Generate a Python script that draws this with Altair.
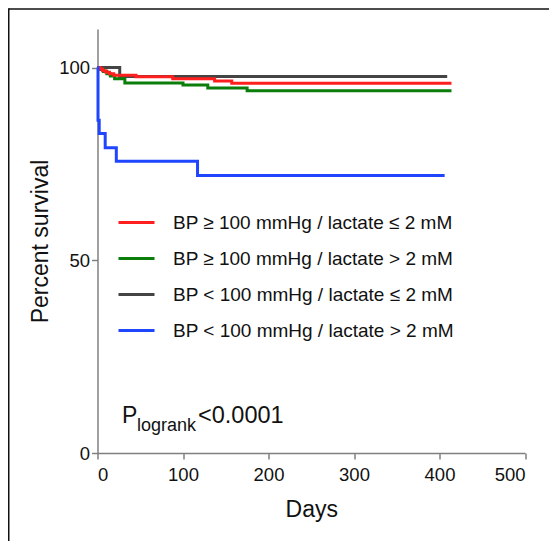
import altair as alt
import pandas as pd

labels = [
    "BP ≥ 100 mmHg / lactate ≤ 2 mM",
    "BP ≥ 100 mmHg / lactate > 2 mM",
    "BP < 100 mmHg / lactate ≤ 2 mM",
    "BP < 100 mmHg / lactate > 2 mM",
]
colors = ["#ff1f1f", "#0b7d0b", "#444444", "#1f45ff"]

red_days = [0, 3, 6, 10, 14, 19, 45, 88, 137, 157, 414]
red_surv = [100, 99.6, 99.2, 98.8, 98.4, 98.0, 97.6, 97.1, 96.5, 95.9, 95.9]
green_days = [0, 3, 7, 11, 15, 20, 32, 100, 129, 175, 414]
green_surv = [100, 99.5, 99.0, 98.4, 97.8, 97.1, 96.0, 95.5, 94.7, 94.0, 94.0]
black_days = [0, 26, 409]
black_surv = [100, 97.7, 97.7]
blue_days = [0, 0.6, 2, 9, 22, 117, 406]
blue_surv = [100, 86.3, 82.9, 79.2, 75.7, 72.0, 72.0]

x_ticks = [0, 100, 200, 300, 400, 500]
y_ticks = [0, 50, 100]

ann_day = [28.7]
ann_pct = [7.8]

rows = []
for lab, days, surv in [
    (labels[2], black_days, black_surv),
    (labels[1], green_days, green_surv),
    (labels[0], red_days, red_surv),
    (labels[3], blue_days, blue_surv),
]:
    for d, s in zip(days, surv):
        rows.append({"group": lab, "day": d, "surv": s})
df = pd.DataFrame(rows)
ann = pd.DataFrame({"day": ann_day, "pct": ann_pct})

W, H = 427.5, 424
FONT = "Liberation Sans"

x_enc = alt.X(
    "day:Q",
    scale=alt.Scale(domain=[0, 500], nice=False),
    axis=alt.Axis(values=x_ticks, title="Days", format="d"),
)
y_enc = alt.Y(
    "surv:Q",
    scale=alt.Scale(domain=[0, 110], nice=False),
    axis=alt.Axis(values=y_ticks, title="Percent survival", format="d"),
)

lines = alt.Chart(df).mark_line(interpolate="step-after", strokeWidth=3).encode(
    x=x_enc,
    y=y_enc,
    color=alt.Color(
        "group:N",
        scale=alt.Scale(domain=labels, range=colors),
        legend=alt.Legend(
            title=None,
            orient="none",
            legendX=19.5,
            legendY=174,
            symbolType="stroke",
            symbolSize=1296,
            symbolStrokeWidth=3,
            labelFontSize=19,
            labelFont=FONT,
            labelColor="#111111",
            labelOffset=17,
            labelLimit=500,
            rowPadding=6,
            padding=0,
        ),
    ),
)

base_ann = alt.Chart(ann).encode(
    x=alt.X("day:Q", scale=alt.Scale(domain=[0, 500], nice=False)),
    y=alt.Y("pct:Q", scale=alt.Scale(domain=[0, 110], nice=False)),
)
p1 = base_ann.mark_text(text="P", fontSize=23, font=FONT, align="left", baseline="alphabetic", color="#111111")
p2 = base_ann.mark_text(text="logrank", fontSize=18, font=FONT, align="left", baseline="alphabetic", dx=15, dy=8.5, color="#111111")
p3 = base_ann.mark_text(text="<0.0001", fontSize=23.5, font=FONT, align="left", baseline="alphabetic", dx=76, color="#111111")

frame_top = alt.Chart(ann).mark_rule(color="#111111", strokeWidth=1.5).encode(
    x=alt.value(-88.75), x2=alt.value(W + 24), y=alt.value(-20)
)
frame_left = alt.Chart(ann).mark_rule(color="#111111", strokeWidth=1.5).encode(
    x=alt.value(-88.75), y=alt.value(-20.75), y2=alt.value(H + 88)
)

chart = (
    alt.layer(frame_top, frame_left, lines, p1, p2, p3)
    .properties(
        width=W,
        height=H,
        padding={"left": 89.5, "top": 21, "right": 24, "bottom": 88},
        autosize=alt.AutoSizeParams(type="none"),
    )
    .configure(font=FONT)
    .configure_view(stroke=None)
    .configure_axis(
        grid=False,
        domainColor="#808080",
        domainWidth=1.5,
        tickColor="#808080",
        tickWidth=1.5,
        tickSize=6,
        labelFont=FONT,
        labelFontSize=18.5,
        labelColor="#111111",
        titleFont=FONT,
        titleFontSize=23,
        titleFontWeight="normal",
        titleColor="#111111",
    )
    .configure_axisX(labelPadding=6, titlePadding=15)
    .configure_axisY(labelPadding=2, titlePadding=6)
)

chart.save("out.html", embed_options={"renderer": "svg", "actions": False})
